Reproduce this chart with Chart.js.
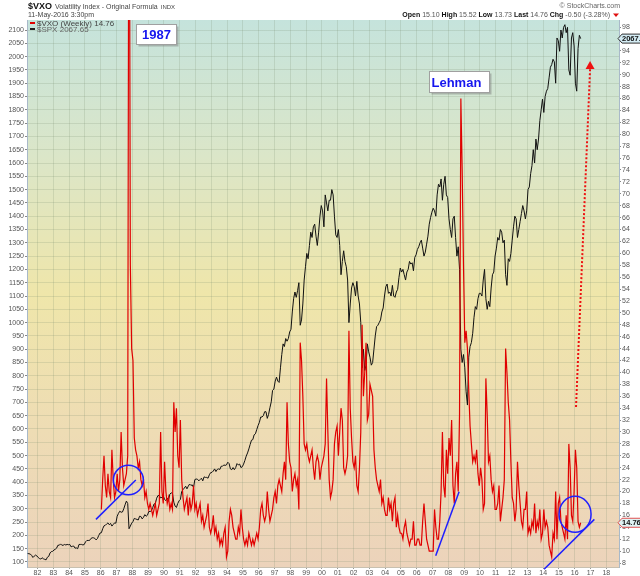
<!DOCTYPE html>
<html>
<head>
<meta charset="utf-8">
<script src="https://cdn.jsdelivr.net/npm/chart.js@4.4.1/dist/chart.umd.min.js"></script>
<style>
html,body{margin:0;padding:0;background:#fff;}
#c{display:block;}
</style>
</head>
<body>
<canvas id="c" width="640" height="576"></canvas>
<script>
// ---------- DATA ----------
// S&P 500 monthly values, May 1981 .. May 2016
const spxStartYear = 1981, spxStartMonth = 5;
const spxMonthly = [
  132,131,130,125,117,122,126,123,
  117,113,111,116,112,110,108,118,121,134,139,140,
  145,148,152,163,163,168,163,163,166,164,166,165,
  166,157,159,160,152,153,150,166,166,166,164,166,
  176,181,181,181,188,191,191,189,183,188,200,209,
  210,225,236,238,243,247,240,245,235,241,247,246,
  272,283,291,287,288,300,315,329,320,225,235,246,
  252,264,262,260,258,272,271,262,268,278,272,276,
  290,290,292,305,318,320,340,350,349,341,343,350,
  335,331,340,332,355,360,358,325,310,305,320,330,
  335,365,372,378,385,375,385,393,388,390,380,410,
  412,411,405,410,415,405,420,418,418,415,428,436,
  437,442,450,440,448,450,448,460,460,465,463,465,
  475,470,450,447,455,447,455,470,465,468,455,458,
  468,482,498,510,525,542,558,560,578,582,598,613,
  625,645,645,650,665,665,640,655,680,702,745,750,
  780,795,780,775,830,880,920,910,940,930,940,965,
  975,1040,1090,1115,1095,1120,1150,990,1010,1070,1160,1210,
  1260,1240,1290,1340,1320,1360,1370,1325,1290,1340,1400,1440,
  1420,1360,1480,1450,1420,1460,1460,1500,1480,1400,1330,1320,
  1350,1290,1180,1230,1270,1230,1210,1160,1000,1070,1130,1150,
  1135,1100,1155,1100,1070,1000,830,900,820,840,920,890,
  870,840,850,900,950,985,990,1000,1010,1040,1055,1100,
  1135,1145,1110,1115,1100,1140,1100,1095,1115,1125,1170,1205,
  1190,1200,1180,1160,1190,1200,1230,1220,1225,1195,1245,1255,
  1275,1285,1300,1310,1280,1250,1265,1295,1325,1370,1395,1415,
  1430,1420,1400,1480,1520,1510,1540,1460,1520,1550,1480,1470,
  1390,1350,1320,1390,1400,1320,1250,1285,1200,900,850,880,
  830,740,690,870,910,925,960,1020,1060,1050,1090,1110,
  1110,1100,1160,1200,1090,1050,1080,1060,1130,1180,1190,1250,
  1280,1320,1310,1350,1340,1300,1310,1180,1140,1240,1230,1260,
  1310,1360,1400,1390,1320,1350,1380,1410,1440,1420,1390,1420,
  1500,1510,1560,1590,1650,1600,1690,1650,1690,1760,1800,1840,
  1790,1850,1870,1880,1920,1960,1970,1990,1980,1900,2070,2060,
  2020,2100,2070,2110,2120,2090,2110,1950,1930,2070,2090,2040,
  1900,1870,2030,2080,2067.65
];
// VXO (weekly chart, sampled monthly) Jan 1986 .. May 2016
const vxoStartYear = 1986, vxoStartMonth = 1;
const vxoMonthly = [
  17,22,26,21,19,23,20,19,27,22,19,20,
  23,20,22,30,24,21,22,23,26,150,58,44,
  42,29,27,26,24,25,22,21,22,19,20,18,
  17,18,17,16,17,18,16,17,18,30,20,18,
  25,20,18,19,17,18,17,35,30,34,26,24,
  32,22,19,17,18,19,16,19,17,18,21,17,
  18,16,17,18,15,16,14,15,16,18,14,13,
  14,16,13,14,12,13,11,12,11,13,14,9,
  10,15,17,16,14,13,12,12,14,13,17,14,
  12,11,12,11,13,12,11,12,11,12,13,12,
  14,17,18,16,15,16,20,17,15,16,17,19,
  20,18,21,22,21,20,23,25,22,35,28,25,
  24,20,22,23,21,22,17,45,42,36,28,27,
  28,26,25,26,27,24,22,25,26,25,22,24,
  25,26,28,39,30,22,19,20,22,28,30,31,
  26,30,34,32,24,23,24,26,47,34,29,25,
  24,26,21,20,24,30,48,36,40,45,32,33,
  38,37,36,27,24,22,21,20,22,18,19,17,
  16,16,19,17,18,15,18,19,14,16,14,13,
  13,12,14,15,13,12,11,12,12,15,11,11,
  12,12,11,11,15,18,15,12,11,10,10,10,
  10,17,14,12,12,15,20,30,21,19,27,23,
  29,26,32,21,18,23,25,20,33,86,74,58,
  45,47,44,37,31,28,25,26,25,27,23,21,
  24,22,17,18,39,33,25,26,22,20,21,17,
  17,18,21,15,17,19,22,44,40,35,32,25,
  19,18,15,17,25,21,18,15,14,17,17,20,
  13,14,13,15,14,18,13,15,14,17,12,13,
  17,14,15,14,11,10,9,13,12,20,12,18,
  19,15,14,13,12,16,12,28,24,16,15,20,
  27,24,15,14,14.76
];
const yearTicks = [1982,1983,1984,1985,1986,1987,1988,1989,1990,1991,1992,1993,1994,1995,1996,1997,1998,1999,2000,2001,2002,2003,2004,2005,2006,2007,2008,2009,2010,2011,2012,2013,2014,2015,2016,2017,2018];
const spxTicks = [100,150,200,250,300,350,400,450,500,550,600,650,700,750,800,850,900,950,1000,1050,1100,1150,1200,1250,1300,1350,1400,1450,1500,1550,1600,1650,1700,1750,1800,1850,1900,1950,2000,2050,2100];
const vxoTicks = [8,10,12,14,16,18,20,22,24,26,28,30,32,34,36,38,40,42,44,46,48,50,52,54,56,58,60,62,64,66,68,70,72,74,76,78,80,82,84,86,88,90,92,94,96,98];
// Quote header values
const quoteLabels = ['Open','High','Low','Last','Chg'];
const quoteValues = ['15.10','15.52','13.73','14.76','-0.50 (-3.28%)'];
// Hand-drawn annotations, in data units (year, VXO)
const blueLines = [[1985.70,15.33,1988.22,21.93],[2007.20,9.22,2008.68,19.96],[2014.06,6.94,2017.24,15.33]];
const blueCircles = [[1987.75,21.93],[2016.02,16.2]];
const redArrow = [2016.08,34.2,2016.97,92.3];
const noteBoxes = [['1987',1988.23,98.55],['Lehman',2006.80,90.7]];

// ---------- BUILD ----------
const toPts = (arr, y0, m0) => arr.map((v,i)=>({x: y0 + (m0-1+i+0.5)/12, y: v}));
const spxPts = toPts(spxMonthly, spxStartYear, spxStartMonth);
const vxoPts = toPts(vxoMonthly, vxoStartYear, vxoStartMonth);
const lastSpx = spxMonthly[spxMonthly.length-1];
const lastVxo = vxoMonthly[vxoMonthly.length-1];

Chart.defaults.font.family = '"Liberation Sans", Arial, sans-serif';
Chart.defaults.color = '#555';

const gridCol = 'rgba(120,140,110,0.2)';
const borderCol = '#a9b9c9';

const bgPlugin = {
  id: 'bg',
  beforeDraw(chart){
    const {ctx, chartArea:a} = chart;
    ctx.save();
    ctx.fillStyle = '#fff';
    ctx.fillRect(0,0,chart.width,chart.height);
    const g = ctx.createLinearGradient(0,a.top,0,a.bottom);
    g.addColorStop(0,'#c5e3dc');
    g.addColorStop(0.25,'#dbe6c8');
    g.addColorStop(0.5,'#efe6aa');
    g.addColorStop(0.75,'#eedcb4');
    g.addColorStop(1,'#ecd3bb');
    ctx.fillStyle = g;
    ctx.fillRect(a.left,a.top,a.right-a.left,a.bottom-a.top);
    ctx.restore();
  }
};

function drawSegments(ctx, segs, xRight, y){
  let w = 0;
  segs.forEach(s=>{ctx.font = s.f; w += ctx.measureText(s.t).width;});
  let x = xRight - w;
  segs.forEach(s=>{ctx.font = s.f; ctx.fillStyle = s.c; ctx.fillText(s.t,x,y); x += ctx.measureText(s.t).width;});
  return xRight - w;
}

const annoPlugin = {
  id: 'anno',
  afterDatasetsDraw(chart){
    const {ctx, chartArea:a, scales} = chart;
    const X = v => scales.x.getPixelForValue(v);
    const R = v => scales.yR.getPixelForValue(v);
    ctx.save();
    // blue lines
    ctx.strokeStyle = '#1f1fff'; ctx.lineWidth = 1.5;
    blueLines.forEach(l=>{ctx.beginPath(); ctx.moveTo(X(l[0]),R(l[1])); ctx.lineTo(X(l[2]),R(l[3])); ctx.stroke();});
    // circles
    const radii = [[15,14.7],[16,18]];
    blueCircles.forEach((c,i)=>{ctx.beginPath(); ctx.ellipse(X(c[0]),R(c[1]),radii[i][0],radii[i][1],0,0,Math.PI*2); ctx.stroke();});
    // red dotted arrow
    ctx.strokeStyle = '#ee1111'; ctx.lineWidth = 2; ctx.setLineDash([2,2]);
    const ax0 = X(redArrow[0]), ay0 = R(redArrow[1]), ax1 = X(redArrow[2]), ay1 = R(redArrow[3]);
    ctx.beginPath(); ctx.moveTo(ax0,ay0); ctx.lineTo(ax1,ay1+8); ctx.stroke();
    ctx.setLineDash([]);
    ctx.fillStyle = '#ee1111';
    ctx.beginPath(); ctx.moveTo(ax1,ay1); ctx.lineTo(ax1-4.5,ay1+8); ctx.lineTo(ax1+4.5,ay1+8); ctx.closePath(); ctx.fill();
    // note boxes
    const boxSpec = [{w:40,h:20,f:'bold 13px "Liberation Sans", Arial',pad:3,center:true},{w:60,h:21,f:'bold 13px "Liberation Sans", Arial',pad:2,center:false}];
    noteBoxes.forEach((b,i)=>{
      const s = boxSpec[i];
      const bx = Math.round(X(b[1]))+0.5, by = Math.round(R(b[2]))+0.5;
      ctx.fillStyle = 'rgba(120,120,120,0.45)';
      ctx.fillRect(bx+2,by+2,s.w,s.h);
      ctx.fillStyle = '#fff';
      ctx.fillRect(bx,by,s.w,s.h);
      ctx.strokeStyle = '#a0a0a0'; ctx.lineWidth = 1;
      ctx.strokeRect(bx,by,s.w,s.h);
      ctx.font = s.f; ctx.fillStyle = '#1515ee'; ctx.textBaseline = 'middle';
      if (s.center){ctx.textAlign='center'; ctx.fillText(b[0],bx+s.w/2,by+s.h/2+1);}
      else {ctx.textAlign='left'; ctx.fillText(b[0],bx+s.pad,by+s.h/2+1);}
    });
    // legend
    ctx.textAlign = 'left'; ctx.textBaseline = 'middle';
    ctx.lineWidth = 2;
    ctx.strokeStyle = '#e00000'; ctx.beginPath(); ctx.moveTo(a.left+3,a.top+3); ctx.lineTo(a.left+8,a.top+3); ctx.stroke();
    ctx.strokeStyle = '#222'; ctx.beginPath(); ctx.moveTo(a.left+3,a.top+9); ctx.lineTo(a.left+8,a.top+9); ctx.stroke();
    ctx.font = '8px "Liberation Sans", Arial'; ctx.fillStyle = '#444';
    ctx.fillText('$VXO (Weekly) ' + lastVxo.toFixed(2), a.left+10, a.top+3.5);
    ctx.fillStyle = '#666';
    ctx.fillText('$SPX ' + lastSpx.toFixed(2), a.left+10, a.top+9.5);
    ctx.restore();
  },
  afterDraw(chart){
    const {ctx, chartArea:a, scales} = chart;
    ctx.save();
    // right-axis value tags
    const tag = (y, txt, fill, stroke) => {
      const x0 = a.right;
      ctx.beginPath();
      ctx.moveTo(x0-1,y); ctx.lineTo(x0+3,y-4.5); ctx.lineTo(642,y-4.5); ctx.lineTo(642,y+4.5); ctx.lineTo(x0+3,y+4.5); ctx.closePath();
      ctx.fillStyle = fill; ctx.fill(); ctx.strokeStyle = stroke; ctx.lineWidth = 1; ctx.stroke();
      ctx.font = 'bold 7.5px "Liberation Sans", Arial'; ctx.fillStyle = '#111'; ctx.textAlign='left'; ctx.textBaseline='middle';
      ctx.fillText(txt, x0+3, y+0.5);
    };
    tag(scales.yL.getPixelForValue(lastSpx), lastSpx.toFixed(2), '#d4ecf4', '#333');
    tag(scales.yR.getPixelForValue(lastVxo), lastVxo.toFixed(2), '#dff3f3', '#e05050');
    // header
    ctx.textBaseline = 'alphabetic'; ctx.textAlign = 'left';
    ctx.font = 'bold 9px "Liberation Sans", Arial'; ctx.fillStyle = '#111';
    ctx.fillText('$VXO', 28, 9);
    let x = 28 + ctx.measureText('$VXO').width + 3;
    ctx.font = '7px "Liberation Sans", Arial'; ctx.fillStyle = '#444';
    const t1 = 'Volatility Index - Original Formula';
    ctx.fillText(t1, x, 9);
    x += ctx.measureText(t1).width + 3;
    ctx.font = '6px "Liberation Sans", Arial';
    ctx.fillText('INDX', x, 9);
    ctx.font = '7px "Liberation Sans", Arial'; ctx.fillStyle = '#444';
    ctx.fillText('11-May-2016 3:30pm', 28, 17);
    ctx.textAlign = 'right'; ctx.fillStyle = '#666';
    ctx.fillText('\u00A9 StockCharts.com', 620, 8);
    ctx.textAlign = 'left';
    const segs = [];
    quoteLabels.forEach((l,i)=>{
      segs.push({t:l, f:'bold 7px "Liberation Sans", Arial', c:'#111'});
      segs.push({t:' '+quoteValues[i]+' ', f:'7px "Liberation Sans", Arial', c:'#555'});
    });
    drawSegments(ctx, segs, 612, 17);
    ctx.fillStyle = '#e01010';
    ctx.beginPath(); ctx.moveTo(613,13.5); ctx.lineTo(619,13.5); ctx.lineTo(616,17); ctx.closePath(); ctx.fill();
    ctx.restore();
  }
};

new Chart(document.getElementById('c'), {
  type: 'line',
  data: {
    datasets: [
      {label:'$VXO (Weekly)', data: vxoPts, yAxisID:'yR', borderColor:'#e00000', borderWidth:1.2, pointRadius:0, fill:false, order:0},
      {label:'$SPX', data: spxPts, yAxisID:'yL', borderColor:'#111', borderWidth:1, pointRadius:0, fill:false, order:1}
    ]
  },
  options: {
    responsive:false, animation:false, devicePixelRatio:1,
    parsing:false, normalized:true,
    layout:{padding:{top:20,left:0,right:0,bottom:0}},
    elements:{line:{tension:0}, point:{radius:0}},
    plugins:{legend:{display:false}, tooltip:{enabled:false}},
    scales:{
      x:{
        type:'linear', min:1981.335, max:2018.80,
        afterBuildTicks: s => { s.ticks = yearTicks.map(v=>({value:v})); },
        afterFit: s => { s.height = 9; },
        ticks:{autoSkip:false, maxRotation:0, padding:0, font:{size:7}, color:'#555',
          callback: v => String(v % 100).padStart(2,'0')},
        grid:{color:gridCol, tickLength:2, tickColor:'#999'},
        border:{display:true, color:'#c8c0b0'}
      },
      yL:{
        type:'linear', position:'left', min:81.2, max:2137.6,
        afterBuildTicks: s => { s.ticks = spxTicks.map(v=>({value:v})); },
        afterFit: s => { s.width = 27; },
        ticks:{autoSkip:false, padding:1, font:{size:7}, color:'#555', callback: v => String(v)},
        grid:{color:gridCol, tickLength:2, tickColor:'#888'},
        border:{display:true, color:borderCol}
      },
      yR:{
        type:'linear', position:'right', min:7.33, max:99.18,
        afterBuildTicks: s => { s.ticks = vxoTicks.map(v=>({value:v})); },
        afterFit: s => { s.width = 21; },
        ticks:{autoSkip:false, padding:1, font:{size:7}, color:'#555', callback: v => String(v)},
        grid:{drawOnChartArea:false, tickLength:2, tickColor:'#888'},
        border:{display:true, color:borderCol}
      }
    }
  },
  plugins:[bgPlugin, annoPlugin]
});
</script>
</body>
</html>
